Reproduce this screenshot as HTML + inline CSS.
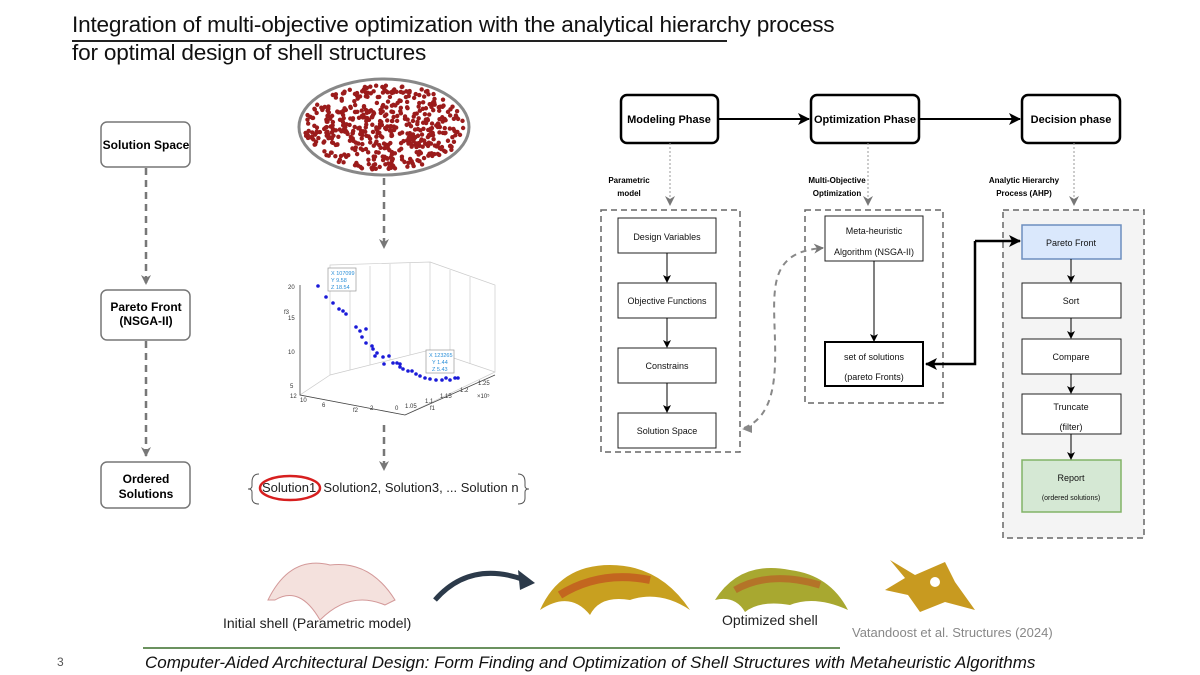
<!DOCTYPE html>
<html><head><meta charset="utf-8"><style>
body{margin:0;width:1200px;height:675px;background:#fff;position:relative;overflow:hidden;font-family:"Liberation Sans",sans-serif}
.t{position:absolute;white-space:nowrap}
</style></head><body>
<div class="t" style="left:72px;top:12px;font-size:22.6px;color:#111;letter-spacing:-0.2px">Integration of multi-objective optimization with the analytical hierarchy process</div>
<div class="t" style="left:72px;top:40px;font-size:22.6px;color:#111;letter-spacing:-0.2px">for optimal design of shell structures</div>
<div style="position:absolute;left:72px;top:40px;width:655px;height:1.5px;background:#222"></div>

<svg id="s" width="1200" height="675" style="position:absolute;left:0;top:0" font-family="Liberation Sans, sans-serif">
<defs>
<marker id="ab" markerWidth="8" markerHeight="8" refX="7" refY="4" orient="auto" markerUnits="userSpaceOnUse"><path d="M0,0 L8,4 L0,8 L2,4z" fill="#000"/></marker>
<marker id="ag" markerWidth="10" markerHeight="10" refX="9" refY="5" orient="auto" markerUnits="userSpaceOnUse"><path d="M0,0 L10,5 L0,10 L3,5z" fill="#777"/></marker>
<marker id="ak" markerWidth="12" markerHeight="12" refX="11" refY="6" orient="auto" markerUnits="userSpaceOnUse"><path d="M0,0 L12,6 L0,12 L3,6z" fill="#000"/></marker>
</defs>
<g fill="#fff" stroke="#777" stroke-width="1.5">
<rect x="101" y="122" width="89" height="45" rx="6"/>
<rect x="101" y="290" width="89" height="50" rx="6"/>
<rect x="101" y="462" width="89" height="46" rx="6"/>
</g>
<g font-size="12" font-weight="bold" text-anchor="middle" fill="#000">
<text x="146" y="149">Solution Space</text>
<text x="146" y="311">Pareto Front</text><text x="146" y="325">(NSGA-II)</text>
<text x="146" y="483">Ordered</text><text x="146" y="498">Solutions</text>
</g>
<g stroke="#777" stroke-width="2.5" stroke-dasharray="7,5" fill="none">
<line x1="146" y1="168" x2="146" y2="284" marker-end="url(#ag)"/>
<line x1="146" y1="341" x2="146" y2="456" marker-end="url(#ag)"/>
<line x1="384" y1="178" x2="384" y2="248" marker-end="url(#ag)"/>
<line x1="384" y1="425" x2="384" y2="470" marker-end="url(#ag)"/>
</g>
<ellipse cx="384" cy="127" rx="85" ry="48" fill="#fff" stroke="#888" stroke-width="3"/>
<g id="dots" fill="#9b1b1b"></g>
<g stroke="#ccc" stroke-width="0.7" fill="none">
<path d="M330 265 L330 375 L430 350 L430 262 Z"/><path d="M430 262 L495 285 L495 372 L430 350"/>
<path d="M330 375 L300 395 L405 415 L495 372"/>
<path d="M350 370 L350 268 M370 365 L370 266 M390 360 L390 264 M410 355 L410 263 M450 270 L450 357 M470 277 L470 364"/>
</g>
<g stroke="#444" stroke-width="0.8" fill="none"><path d="M300 285 L300 395 L405 415 L495 375"/></g>
<g font-size="6" fill="#333"><text x="288" y="289">20</text><text x="288" y="320">15</text><text x="288" y="354">10</text><text x="290" y="388">5</text><text x="284" y="314">f3</text>
<text x="290" y="398">12</text><text x="300" y="402">10</text><text x="322" y="407">6</text><text x="370" y="410">2</text><text x="395" y="410">0</text><text x="353" y="412">f2</text>
<text x="405" y="408">1.05</text><text x="425" y="403">1.1</text><text x="440" y="398">1.15</text><text x="460" y="392">1.2</text><text x="478" y="385">1.25</text><text x="430" y="410">f1</text><text x="477" y="398">×10⁵</text></g>
<rect x="328" y="268" width="28" height="23" fill="#fff" stroke="#999" stroke-width="0.7"/>
<g font-size="5.5" fill="#2a8fd8"><text x="331" y="275">X 107099</text><text x="331" y="282">Y 9.58</text><text x="331" y="289">Z 18.54</text></g>
<rect x="426" y="350" width="28" height="23" fill="#fff" stroke="#999" stroke-width="0.7"/>
<g font-size="5.5" fill="#2a8fd8"><text x="429" y="357">X 123265</text><text x="432" y="364">Y 1.44</text><text x="432" y="371">Z 5.43</text></g>
<g id="bd" fill="#1a1ad8"></g>
<text x="262" y="492" font-size="13" fill="#222">Solution1, Solution2, Solution3, ... Solution n</text>
<path d="M259 474 Q252 474 252 482 L252 486 Q252 489 248 489 Q252 489 252 492 L252 498 Q252 504 259 504" fill="none" stroke="#555"/>
<path d="M518 474 Q525 474 525 482 L525 486 Q525 489 529 489 Q525 489 525 492 L525 498 Q525 504 518 504" fill="none" stroke="#555"/>
<ellipse cx="290" cy="488" rx="30" ry="12" fill="none" stroke="#d71f1f" stroke-width="2.5"/>
<g fill="#fff" stroke="#000" stroke-width="2.5">
<rect x="621" y="95" width="97" height="48" rx="6"/>
<rect x="811" y="95" width="108" height="48" rx="6"/>
<rect x="1022" y="95" width="98" height="48" rx="6"/>
</g>
<g font-size="11" font-weight="bold" text-anchor="middle">
<text x="669" y="123">Modeling Phase</text><text x="865" y="123">Optimization Phase</text><text x="1071" y="123">Decision phase</text>
</g>
<g stroke="#000" stroke-width="2"><line x1="718" y1="119" x2="809" y2="119" marker-end="url(#ak)"/><line x1="919" y1="119" x2="1020" y2="119" marker-end="url(#ak)"/></g>
<g stroke="#999" stroke-width="1" stroke-dasharray="2,2"><line x1="670" y1="143" x2="670" y2="205" marker-end="url(#ag)"/><line x1="868" y1="143" x2="868" y2="205" marker-end="url(#ag)"/><line x1="1074" y1="143" x2="1074" y2="205" marker-end="url(#ag)"/></g>
<g font-size="8" font-weight="bold" text-anchor="middle">
<text x="629" y="183">Parametric</text><text x="629" y="196">model</text>
<text x="837" y="183">Multi-Objective</text><text x="837" y="196">Optimization</text>
<text x="1024" y="183">Analytic Hierarchy</text><text x="1024" y="196">Process (AHP)</text>
</g>
<g fill="none" stroke="#666" stroke-width="1.5" stroke-dasharray="6,4">
<rect x="601" y="210" width="139" height="242"/>
<rect x="805" y="210" width="138" height="193"/>
<rect x="1003" y="210" width="141" height="328" fill="#f4f4f4"/>
</g>
<g fill="#fff" stroke="#222" stroke-width="1">
<rect x="618" y="218" width="98" height="35"/><rect x="618" y="283" width="98" height="35"/><rect x="618" y="348" width="98" height="35"/><rect x="618" y="413" width="98" height="35"/>
<rect x="825" y="216" width="98" height="45"/>
<rect x="1022" y="283" width="99" height="35"/><rect x="1022" y="339" width="99" height="35"/><rect x="1022" y="394" width="99" height="40"/>
</g>
<rect x="825" y="342" width="98" height="44" fill="#fff" stroke="#000" stroke-width="2"/>
<rect x="1022" y="225" width="99" height="34" fill="#dae8fc" stroke="#6c8ebf" stroke-width="1.5"/>
<rect x="1022" y="460" width="99" height="52" fill="#d5e8d4" stroke="#82b366" stroke-width="1.5"/>
<g font-size="9" text-anchor="middle" fill="#111">
<text x="667" y="240">Design Variables</text><text x="667" y="304">Objective Functions</text><text x="667" y="369">Constrains</text><text x="667" y="434">Solution Space</text>
<text x="874" y="234">Meta-heuristic</text><text x="874" y="255">Algorithm (NSGA-II)</text>
<text x="874" y="360">set of solutions</text><text x="874" y="380">(pareto Fronts)</text>
<text x="1071" y="246">Pareto Front</text><text x="1071" y="304">Sort</text><text x="1071" y="360">Compare</text><text x="1071" y="410">Truncate</text><text x="1071" y="430">(filter)</text>
<text x="1071" y="481">Report</text><text x="1071" y="500" font-size="7">(ordered solutions)</text>
</g>
<g stroke="#000" stroke-width="1"><line x1="667" y1="253" x2="667" y2="282" marker-end="url(#ab)"/><line x1="667" y1="318" x2="667" y2="347" marker-end="url(#ab)"/><line x1="667" y1="383" x2="667" y2="412" marker-end="url(#ab)"/>
<line x1="874" y1="261" x2="874" y2="341" marker-end="url(#ab)"/>
<line x1="1071" y1="259" x2="1071" y2="282" marker-end="url(#ab)"/><line x1="1071" y1="318" x2="1071" y2="338" marker-end="url(#ab)"/><line x1="1071" y1="374" x2="1071" y2="393" marker-end="url(#ab)"/><line x1="1071" y1="434" x2="1071" y2="459" marker-end="url(#ab)"/></g>
<g stroke="#000" stroke-width="2.5" fill="none"><path d="M975 241 L975 364 L926 364" marker-end="url(#ak)"/><line x1="975" y1="241" x2="1020" y2="241" marker-end="url(#ak)"/></g>
<path d="M744 428 C790 410 770 330 775 290 C778 260 795 250 823 248" fill="none" stroke="#888" stroke-width="2" stroke-dasharray="6,5" marker-end="url(#ag)"/>
<path d="M752 425 L742 429 L752 433 Z" fill="#888"/>
<path d="M268 600 Q290 555 330 565 Q370 560 395 600 L385 605 Q350 590 320 620 Q300 585 275 600 Z" fill="#f3dcd8" stroke="#c88" stroke-width="1" opacity="0.85"/>
<path d="M435 600 Q470 560 525 580" fill="none" stroke="#2c3a4a" stroke-width="5"/>
<path d="M535 583 L518 570 L520 590 Z" fill="#2c3a4a"/>
<path d="M540 610 Q560 565 610 565 Q660 565 690 610 Q660 590 630 600 Q600 595 590 615 Q570 590 540 610 Z" fill="#c8a020"/>
<path d="M560 595 Q600 570 650 580" stroke="#c04020" stroke-width="8" fill="none" opacity="0.6"/>
<path d="M715 600 Q740 560 790 570 Q830 575 848 610 Q815 595 790 605 Q760 600 745 612 Q735 595 715 600 Z" fill="#a8a830"/>
<path d="M735 590 Q770 570 820 585" stroke="#c04020" stroke-width="7" fill="none" opacity="0.5"/>
<path d="M890 560 L915 575 L945 562 L955 582 L975 610 L945 602 L920 612 L908 595 L885 590 L905 578 Z" fill="#c89a20"/>
<circle cx="935" cy="582" r="5" fill="#fff"/>
<line x1="143" y1="648" x2="840" y2="648" stroke="#3a6e2a" stroke-width="1.5"/>
</svg>
<div class="t" style="left:223px;top:615px;font-size:14px;color:#222">Initial shell (Parametric model)</div>
<div class="t" style="left:722px;top:612px;font-size:14px;color:#222">Optimized shell</div>
<div class="t" style="left:852px;top:625px;font-size:13px;color:#888">Vatandoost et al. Structures (2024)</div>
<div class="t" style="left:57px;top:655px;font-size:12px;color:#555">3</div>
<div class="t" style="left:145px;top:653px;font-size:17px;font-style:italic;color:#111">Computer-Aided Architectural Design:  Form Finding and Optimization of Shell Structures with Metaheuristic Algorithms</div>
<script>
var ns="http://www.w3.org/2000/svg",g=document.getElementById("dots"),s=7;
function r(){s=(s*9301+49297)%233280;return s/233280;}
for(var i=0;i<520;i++){var a=r()*2*Math.PI,d=Math.sqrt(r());var c=document.createElementNS(ns,"circle");c.setAttribute("cx",384+Math.cos(a)*d*80);c.setAttribute("cy",127+Math.sin(a)*d*43);c.setAttribute("r",2.2);g.appendChild(c);}
var b=document.getElementById("bd");
var pts=[[318,286],[326,297],[333,303],[339,309],[343,311],[346,314],[356,327],[360,331],[362,337],[366,343],[373,349],[377,353],[375,356],[389,356],[384,364],[397,363],[400,367],[403,369],[408,371],[412,371],[416,374],[420,376],[425,378],[430,379],[436,380],[442,380],[446,378],[450,380],[455,378],[458,378],[366,329],[372,346],[383,357],[393,363],[400,364]];
pts.forEach(function(p){var c=document.createElementNS(ns,"circle");c.setAttribute("cx",p[0]);c.setAttribute("cy",p[1]);c.setAttribute("r",1.8);b.appendChild(c);});
</script>
</body></html>
